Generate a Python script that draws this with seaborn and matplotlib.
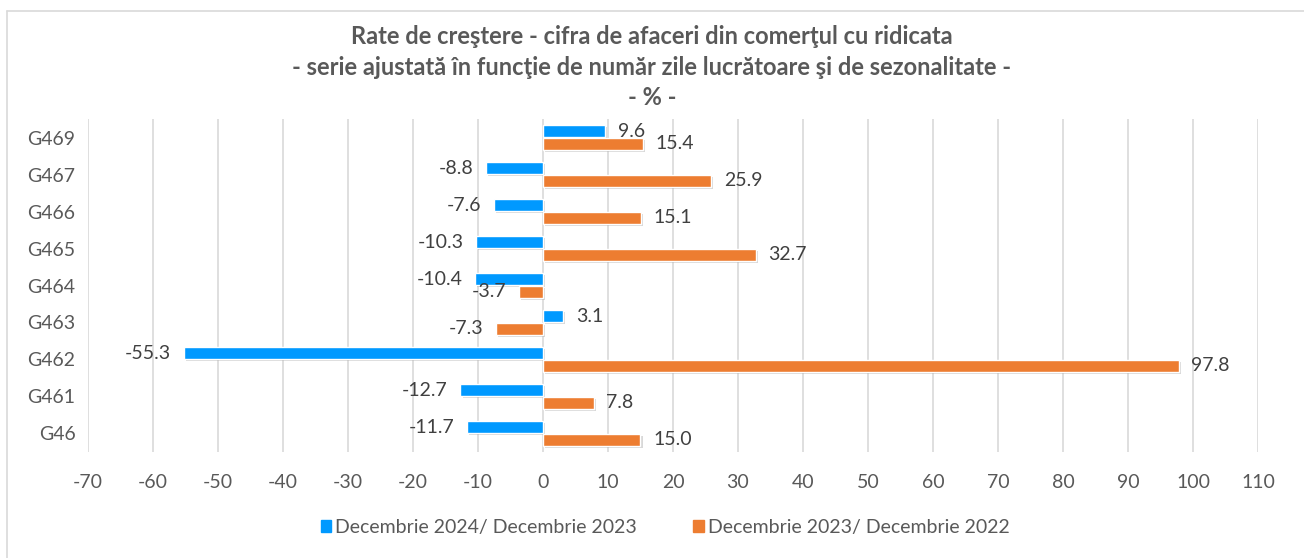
import matplotlib
matplotlib.use('Agg')
import matplotlib.pyplot as plt
import matplotlib.patheffects as pe
from matplotlib.lines import Line2D
import pandas as pd
import seaborn as sb

categories = ['G469', 'G467', 'G466', 'G465', 'G464', 'G463', 'G462', 'G461', 'G46']
dec24_vs_dec23 = [9.6, -8.8, -7.6, -10.3, -10.4, 3.1, -55.3, -12.7, -11.7]
dec23_vs_dec22 = [15.4, 25.9, 15.1, 32.7, -3.7, -7.3, 97.8, 7.8, 15.0]
series_names = ['Decembrie 2024/ Decembrie 2023', 'Decembrie 2023/ Decembrie 2022']
colors = ['#0099FF', '#ED7D31']

TITLE = ('Rate de creştere - cifra de afaceri din comerţul cu ridicata\n'
         '- serie ajustată în funcţie de număr zile lucrătoare şi de sezonalitate -\n'
         '- % -')
TEXT_COLOR = '#595959'

df = pd.DataFrame({
    'categorie': categories * 2,
    'valoare': dec24_vs_dec23 + dec23_vs_dec22,
    'serie': [series_names[0]] * len(categories) + [series_names[1]] * len(categories),
})

sb.set_style('white')
plt.rcParams['font.family'] = ['Lato', 'DejaVu Sans']
plt.rcParams['axes.unicode_minus'] = False

fig = plt.figure(figsize=(13.04, 5.58), dpi=100)
ax = fig.add_axes([0.0675, 0.19, 0.8972, 0.5967])

sb.barplot(data=df, x='valoare', y='categorie', hue='serie', order=categories,
           hue_order=series_names, palette=colors, orient='h', width=0.7, gap=0.1,
           saturation=1, ax=ax, legend=False)

shadow = [pe.SimplePatchShadow(offset=(1.5, -1.5), alpha=0.3, shadow_rgbFace='#7f7f7f'), pe.Normal()]
for container in ax.containers:
    for bar in container:
        bar.set_path_effects(shadow)
    ax.bar_label(container, fmt='%.1f', padding=9, fontsize=14, color='#404040')

ax.set_xlim(-70, 110)
ax.set_xticks(range(-70, 111, 10))
ax.grid(axis='x', color='#D9D9D9', linewidth=1.2)
ax.set_axisbelow(True)
for s in ax.spines.values():
    s.set_visible(False)
ax.set_xlabel('')
ax.set_ylabel('')
ax.tick_params(axis='both', length=0, labelsize=14, colors=TEXT_COLOR)
ax.tick_params(axis='x', pad=16)
ax.tick_params(axis='y', pad=9)

fig.suptitle(TITLE, y=0.955, fontsize=17, fontweight='bold', color=TEXT_COLOR, linespacing=1.4)

handles = [plt.Rectangle((0, 0), 1, 1, color=c) for c in colors]
fig.legend(handles, series_names, loc='center', bbox_to_anchor=(0.51, 0.055), ncol=2,
           frameon=False, fontsize=14, labelcolor=TEXT_COLOR, handlelength=0.55,
           handleheight=0.55, handletextpad=0.2, columnspacing=2.9)

# chart border (top and left edges visible)
fig.add_artist(Line2D([7 / 1304, 1], [1 - 11 / 558, 1 - 11 / 558], color='#D9D9D9', linewidth=1.2))
fig.add_artist(Line2D([7 / 1304, 7 / 1304], [0, 1 - 11 / 558], color='#D9D9D9', linewidth=1.2))

fig.savefig('out.png', dpi=100)
